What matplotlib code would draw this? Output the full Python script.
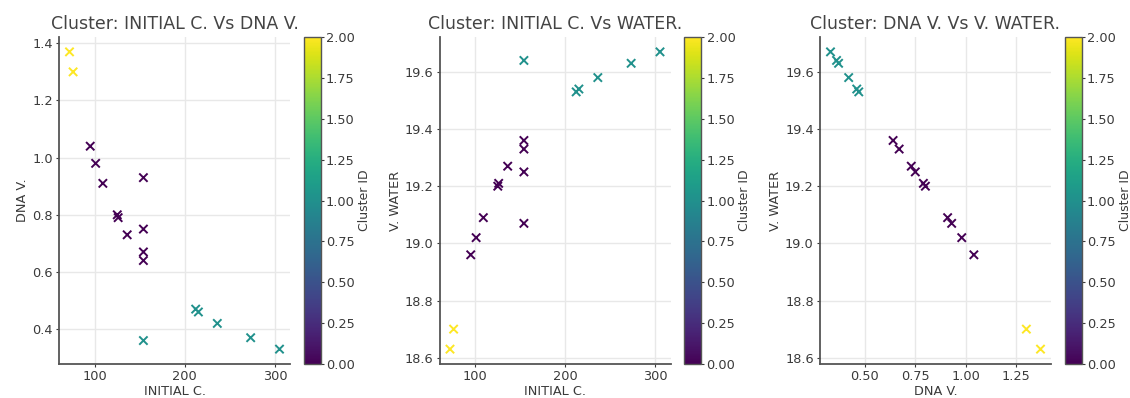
import matplotlib
matplotlib.use("Agg")
import matplotlib.pyplot as plt
import numpy as np

# Data
initial_c = [72, 76, 95, 101, 109, 154, 125, 126, 136, 154, 154, 154,
             154, 212, 215, 236, 273, 305]
dna_v = [1.37, 1.30, 1.04, 0.98, 0.91, 0.93, 0.80, 0.79, 0.73, 0.75, 0.67, 0.64,
         0.36, 0.47, 0.46, 0.42, 0.37, 0.33]
v_water = [18.63, 18.70, 18.96, 19.02, 19.09, 19.07, 19.20, 19.21, 19.27, 19.25, 19.33, 19.36,
           19.64, 19.53, 19.54, 19.58, 19.63, 19.67]
cluster_id = [2, 2, 0, 0, 0, 0, 0, 0, 0, 0, 0, 0,
              1, 1, 1, 1, 1, 1]

titles = ["Cluster: INITIAL C. Vs DNA V.",
          "Cluster: INITIAL C. Vs WATER.",
          "Cluster: DNA V. Vs V. WATER."]
xlabels = ["INITIAL C.", "INITIAL C.", "DNA V."]
ylabels = ["DNA V.", "V. WATER", "V. WATER"]
xdata = [initial_c, initial_c, dna_v]
ydata = [dna_v, v_water, v_water]
cbar_ticks = [0.0, 0.25, 0.5, 0.75, 1.0, 1.25, 1.5, 1.75, 2.0]

W, H = 1130, 398
fig = plt.figure(figsize=(W / 100, H / 100), dpi=100)
fig.patch.set_facecolor("white")

text_col = "#3a3a3a"
spine_col = "#555555"
plt.rcParams["font.family"] = "DejaVu Sans"

ax_lefts = [59, 439.5, 820]
ax_w = 231
cb_gap = 13.5
cb_w = 17
top_px, bot_px = 37, 364

for i in range(3):
    l = ax_lefts[i]
    ax = fig.add_axes([l / W, (H - bot_px) / H, ax_w / W, (bot_px - top_px) / H])
    cax = fig.add_axes([(l + ax_w + cb_gap) / W, (H - bot_px) / H, cb_w / W, (bot_px - top_px) / H])
    sc = ax.scatter(xdata[i], ydata[i], c=cluster_id, cmap="viridis", vmin=0, vmax=2,
                    marker="x", s=36, linewidths=1.4)
    ax.grid(True, color="#e8e8e8", linewidth=1)
    ax.set_axisbelow(True)
    for s in ["top", "right"]:
        ax.spines[s].set_visible(False)
    for s in ["left", "bottom"]:
        ax.spines[s].set_color(spine_col)
        ax.spines[s].set_linewidth(1.3)
    ax.tick_params(colors=text_col, labelsize=9.3, length=2.5, width=0.8, pad=2, direction="out")
    ax.set_title(titles[i], fontsize=12.5, color="#444444", pad=6)
    ax.set_xlabel(xlabels[i], fontsize=9.3, color=text_col, labelpad=1)
    ax.set_ylabel(ylabels[i], fontsize=9.3, color=text_col, labelpad=2)
    if i == 0:
        ax.set_xticks([100, 200, 300])
        ax.set_yticks([0.4, 0.6, 0.8, 1.0, 1.2, 1.4])
    elif i == 1:
        ax.set_xticks([100, 200, 300])
        ax.set_yticks([18.6, 18.8, 19.0, 19.2, 19.4, 19.6])
    else:
        ax.set_xticks([0.5, 0.75, 1.0, 1.25])
        ax.set_xticklabels(["0.50", "0.75", "1.00", "1.25"])
        ax.set_yticks([18.6, 18.8, 19.0, 19.2, 19.4, 19.6])
    cb = fig.colorbar(sc, cax=cax, ticks=cbar_ticks)
    cb.ax.set_yticklabels([f"{t:.2f}" for t in cbar_ticks])
    cb.ax.tick_params(colors=text_col, labelsize=9.3, length=2.5, width=0.8, pad=1.5)
    cb.outline.set_edgecolor(spine_col)
    cb.outline.set_linewidth(1.0)
    cb.set_label("Cluster ID", fontsize=9, color=text_col, labelpad=2)

fig.savefig("out.png", dpi=100, facecolor="white")
